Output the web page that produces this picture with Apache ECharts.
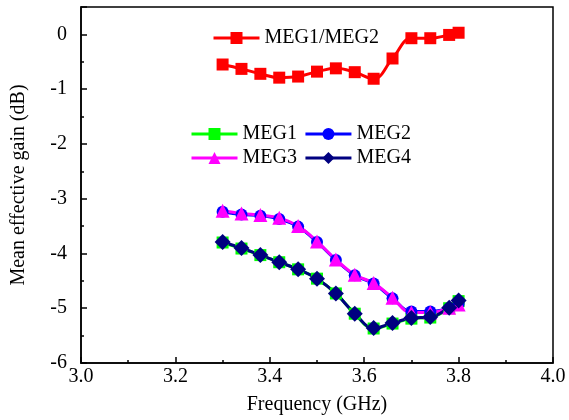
<!DOCTYPE html>
<html><head><meta charset="utf-8">
<script src="https://cdn.jsdelivr.net/npm/echarts@6/dist/echarts.min.js"></script>
<style>html,body{margin:0;padding:0;background:#fff}#c{width:569px;height:420px}</style>
</head><body><div id="c"></div>
<script>
const freq = [3.30,3.34,3.38,3.42,3.46,3.50,3.54,3.58,3.62,3.66,3.70,3.74,3.78,3.80];
const meg12 = [-0.55,-0.63,-0.72,-0.79,-0.77,-0.68,-0.62,-0.69,-0.81,-0.44,-0.07,-0.07,-0.01,0.03];
const meg1 = [-3.80,-3.91,-4.03,-4.16,-4.29,-4.46,-4.73,-5.10,-5.37,-5.28,-5.19,-5.17,-5.00,-4.87];
const meg2 = [-3.24,-3.29,-3.31,-3.37,-3.51,-3.79,-4.12,-4.40,-4.55,-4.82,-5.06,-5.06,-5.00,-4.92];
const meg3 = [-3.22,-3.27,-3.30,-3.35,-3.50,-3.78,-4.11,-4.39,-4.54,-4.81,-5.08,-5.08,-4.99,-4.93];
const meg4 = [-3.79,-3.90,-4.03,-4.16,-4.29,-4.46,-4.73,-5.10,-5.36,-5.27,-5.18,-5.16,-4.99,-4.86];
const xTicks = {min:3.0, max:4.0, interval:0.2};
const yTicks = {min:-6, max:0.5, interval:1};

const font = 'Liberation Serif';
function pts(ys){ return freq.map((x,i)=>[x, ys[i]]); }
function ser(name, ys, color, symbol, size){
  return {name, type:'line', data:pts(ys), smooth:0.4, symbol, symbolSize:size,
    lineStyle:{color, width:3}, itemStyle:{color}, showSymbol:true, z:2};
}
const chart = echarts.init(document.getElementById('c'));
const legBase = {orient:'horizontal', itemWidth:46, itemHeight:15, itemGap:7, padding:0,
  lineStyle:{width:3},
  textStyle:{fontFamily:font, fontSize:20, color:'#000'}};
chart.setOption({
  animation:false,
  backgroundColor:'#fff',
  grid:{left:81, right:16, top:7, bottom:57, show:true, borderColor:'#000', borderWidth:1.5,
    backgroundColor:'transparent', outerBoundsMode:'none', containLabel:false},
  legend:[
    Object.assign({}, legBase, {data:['MEG1/MEG2'], left:212, top:28}),
    Object.assign({}, legBase, {data:['MEG1','MEG2'], left:190, top:124}),
    Object.assign({}, legBase, {data:['MEG3','MEG4'], left:190, top:148})
  ],
  xAxis:{type:'value', min:xTicks.min, max:xTicks.max, interval:xTicks.interval,
    name:'Frequency (GHz)', nameLocation:'middle', nameGap:32,
    nameTextStyle:{fontFamily:font, fontSize:20, color:'#000'},
    axisLine:{onZero:false, lineStyle:{color:'#000', width:1.5}},
    axisTick:{inside:true, length:6, lineStyle:{color:'#000', width:1.5}},
    minorTick:{show:true, splitNumber:2, length:3, lineStyle:{color:'#000', width:1.5}},
    splitLine:{show:false},
    axisLabel:{fontFamily:font, fontSize:20, color:'#000', margin:4, formatter:v=>v.toFixed(1)}},
  yAxis:{type:'value', min:yTicks.min, max:yTicks.max, interval:yTicks.interval,
    name:'Mean effective gain (dB)', nameLocation:'middle', nameGap:52,
    nameTextStyle:{fontFamily:font, fontSize:20, color:'#000'},
    axisLine:{onZero:false, lineStyle:{color:'#000', width:1.5}},
    axisTick:{inside:true, length:6, lineStyle:{color:'#000', width:1.5}},
    minorTick:{show:true, splitNumber:2, length:3, lineStyle:{color:'#000', width:1.5}},
    splitLine:{show:false},
    axisLabel:{fontFamily:font, fontSize:20, color:'#000', margin:14,
      formatter:v=> (Math.abs(v-Math.round(v))<1e-6 ? String(Math.round(v)) : '')}},
  series:[
    ser('MEG1/MEG2', meg12, '#ff0000', 'rect', 12),
    ser('MEG1', meg1, '#00ff00', 'rect', 12),
    ser('MEG2', meg2, '#0000ff', 'circle', 12),
    ser('MEG3', meg3, '#ff00ff', 'triangle', 14),
    ser('MEG4', meg4, '#000080', 'diamond', 16)
  ]
});
</script></body></html>
